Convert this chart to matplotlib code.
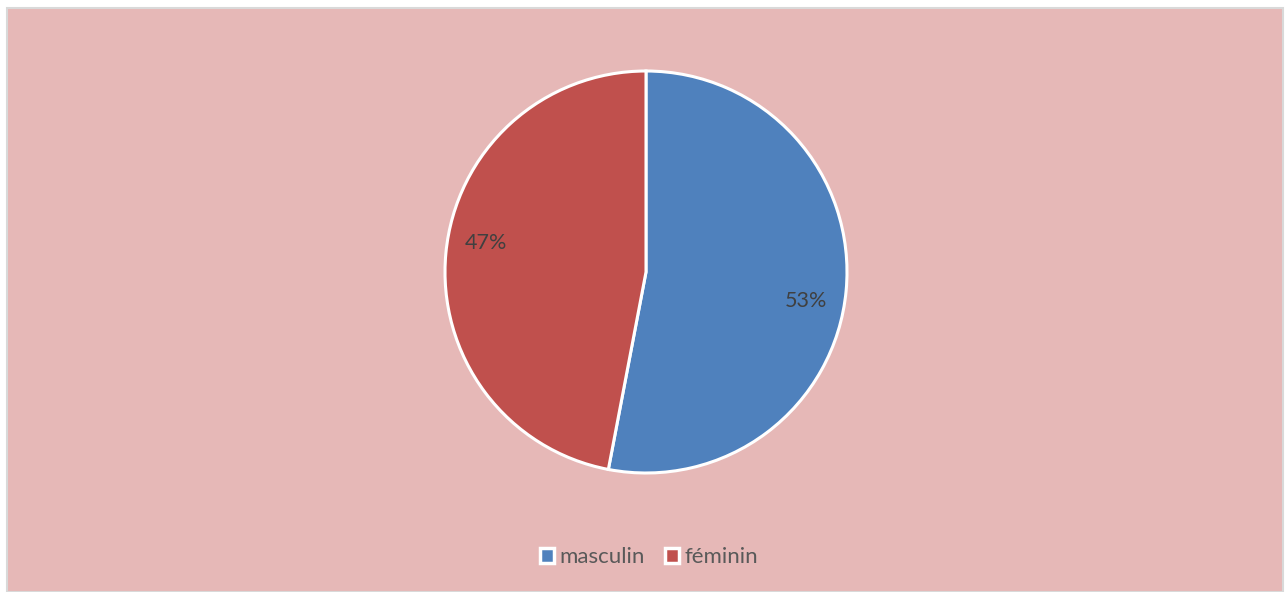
import numpy as np
import matplotlib.pyplot as plt
from matplotlib.patches import Rectangle

# Données
categories = ['masculin', 'féminin']
values = [53, 47]
colors = ['#4F81BD', '#C0504D']

plt.rcParams['font.family'] = ['Lato', 'DejaVu Sans']

W, H = 1288, 592
fig = plt.figure(figsize=(W / 100, H / 100), dpi=100)
fig.patch.set_facecolor('white')

# Fond du graphique
fig.patches.append(Rectangle((7 / W, 0), (1283 - 7) / W, (H - 8) / H,
                             transform=fig.transFigure, facecolor='#E6B8B7',
                             edgecolor='#D9D9D9', linewidth=1.5, zorder=-10))

# Camembert
cx, cy, r = 646, 272, 201
ax = fig.add_axes([(cx - r) / W, (H - cy - r) / H, 2 * r / W, 2 * r / H])
ax.set_facecolor('none')
ax.set_zorder(5)
wedges, texts, autotexts = ax.pie(values, colors=colors, startangle=90, counterclock=False,
                                  autopct='%1.0f%%', pctdistance=0.81, radius=1,
                                  wedgeprops=dict(edgecolor='white', linewidth=2.2, clip_on=False),
                                  textprops=dict(color='#404040', fontsize=15.5))
# étiquettes légèrement tournées (comme Excel)
rot = np.deg2rad(-5)
for t in autotexts:
    x, y = t.get_position()
    t.set_position((x * np.cos(rot) - y * np.sin(rot), x * np.sin(rot) + y * np.cos(rot)))
ax.set_xlim(-1, 1)
ax.set_ylim(-1, 1)
ax.set_aspect('equal')
ax.axis('off')

# Légende
handles = [Rectangle((0, 0), 1, 1, facecolor=c, edgecolor='white', linewidth=2.5) for c in colors]
leg = fig.legend(handles, categories, loc='center', bbox_to_anchor=(649 / W, 1 - 557 / H),
                 ncol=2, frameon=False, fontsize=16, handlelength=0.65, handleheight=0.65,
                 handletextpad=0.25, columnspacing=0.9, labelcolor='#595959')
leg.set_zorder(5)

fig.savefig('out.png', dpi=100, facecolor='white')
